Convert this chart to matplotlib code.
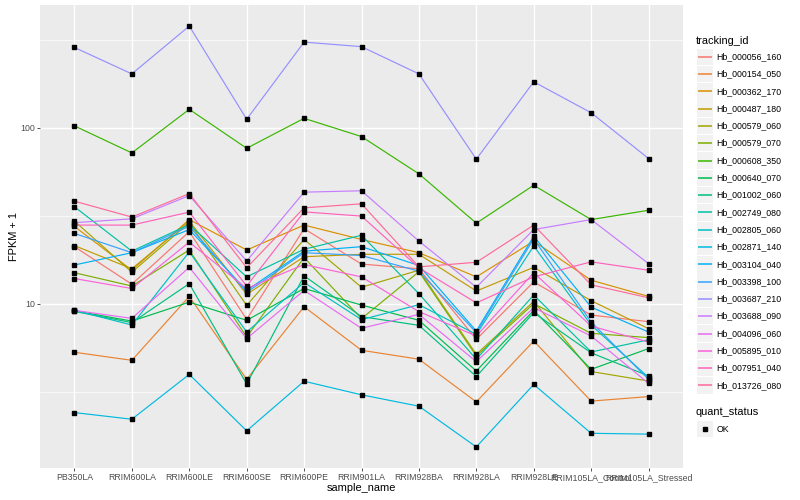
"""
FPKM profiles per gene across rubber tree samples (ggplot-style line plot).
"""

import numpy as np
import matplotlib
matplotlib.use("Agg")
import matplotlib.pyplot as plt
from matplotlib.patches import Rectangle
from matplotlib.ticker import FixedLocator, NullFormatter

plt.rcParams["font.family"] = ["Liberation Sans", "DejaVu Sans"]

# ── Data (FPKM + 1) ──
samples = ["PB350LA", "RRIM600LA", "RRIM600LE", "RRIM600SE", "RRIM600PE",
           "RRIM901LA", "RRIM928BA", "RRIM928LA", "RRIM928LE",
           "RRIM105LA_Control", "RRIM105LA_Stressed"]

tracking_ids = ["Hb_000056_160", "Hb_000154_050", "Hb_000362_170", "Hb_000487_180",
                "Hb_000579_060", "Hb_000579_070", "Hb_000608_350", "Hb_000640_070",
                "Hb_001002_060", "Hb_002749_080", "Hb_002805_060", "Hb_002871_140",
                "Hb_003104_040", "Hb_003398_100", "Hb_003687_210", "Hb_003688_090",
                "Hb_004096_060", "Hb_005895_010", "Hb_007951_040", "Hb_013726_080"]

hb_000056_160 = [21.1, 12.9, 25.7, 8.14, 26.7, 16.8, 15.8, 6.27, 13.3, 8.61, 7.90]
hb_000154_050 = [5.29, 4.76, 11.0, 3.71, 9.61, 5.43, 4.83, 2.76, 6.13, 2.79, 2.96]
hb_000362_170 = [27.5, 15.5, 30.1, 20.2, 28.0, 23.2, 19.5, 14.2, 22.7, 13.6, 11.0]
hb_000487_180 = [21.4, 15.8, 29.5, 11.3, 18.5, 19.1, 19.1, 11.8, 16.1, 10.4, 7.21]
hb_000579_060 = [29.5, 15.1, 28.9, 9.78, 23.2, 12.4, 15.5, 5.15, 10.3, 4.11, 3.63]
hb_000579_070 = [15.0, 12.6, 20.2, 6.46, 18.3, 8.22, 15.2, 5.04, 10.0, 6.78, 6.41]
hb_000608_350 = [102.7, 72.1, 127.6, 76.6, 113.4, 89.3, 54.8, 28.7, 47.2, 30.1, 34.0]
hb_000640_070 = [9.10, 7.96, 10.2, 8.04, 12.2, 9.82, 8.04, 4.14, 9.16, 4.23, 5.55]
hb_001002_060 = [9.04, 7.80, 13.0, 3.49, 14.4, 8.44, 7.53, 3.85, 8.89, 5.25, 3.88]
hb_002749_080 = [35.6, 19.9, 28.2, 14.2, 20.4, 24.5, 11.4, 4.83, 11.2, 5.31, 6.23]
hb_002805_060 = [9.16, 7.56, 19.7, 6.90, 13.2, 8.11, 9.87, 6.69, 21.3, 7.56, 3.80]
hb_002871_140 = [2.40, 2.20, 3.96, 1.89, 3.62, 3.03, 2.61, 1.53, 3.47, 1.83, 1.81]
hb_003104_040 = [16.6, 19.5, 26.4, 11.9, 19.9, 21.1, 16.5, 6.99, 24.2, 9.56, 6.90]
hb_003398_100 = [25.1, 19.5, 27.6, 11.6, 19.5, 18.8, 15.3, 6.84, 23.4, 7.86, 3.71]
hb_003687_210 = [287, 203, 380, 112, 308, 290, 203, 66.4, 183, 122, 67.0]
hb_003688_090 = [28.9, 30.4, 41.2, 17.5, 43.1, 43.9, 22.7, 12.4, 26.4, 30.1, 16.9]
hb_004096_060 = [9.16, 8.25, 16.1, 6.33, 11.9, 7.24, 8.69, 4.68, 9.49, 6.55, 3.52]
hb_005895_010 = [13.9, 12.2, 22.4, 12.2, 16.7, 14.2, 9.01, 6.55, 15.0, 7.46, 6.05]
hb_007951_040 = [28.0, 28.0, 33.2, 12.6, 33.3, 31.5, 16.0, 10.1, 14.2, 17.3, 15.5]
hb_013726_080 = [38.3, 31.1, 42.3, 16.0, 35.1, 37.0, 16.2, 17.2, 28.0, 12.8, 10.8]

series = [hb_000056_160, hb_000154_050, hb_000362_170, hb_000487_180,
          hb_000579_060, hb_000579_070, hb_000608_350, hb_000640_070,
          hb_001002_060, hb_002749_080, hb_002805_060, hb_002871_140,
          hb_003104_040, hb_003398_100, hb_003687_210, hb_003688_090,
          hb_004096_060, hb_005895_010, hb_007951_040, hb_013726_080]


# ── ggplot hue palette (HCL, c=100, l=65) ──
def hue_pal(n, c=100.0, l=65.0):
    hues = np.linspace(15, 375, n + 1)[:-1]
    xn, yn, zn = 0.95047, 1.0, 1.08883
    den = xn + 15 * yn + 3 * zn
    un, vn = 4 * xn / den, 9 * yn / den
    Y = yn * ((l + 16) / 116) ** 3
    out = []
    for h in hues:
        r = np.deg2rad(h)
        u = c * np.cos(r) / (13 * l) + un
        v = c * np.sin(r) / (13 * l) + vn
        X = 9 * Y * u / (4 * v)
        Z = -X / 3 - 5 * Y + 3 * Y / v
        lin = np.array([
            3.240479 * X - 1.537150 * Y - 0.498535 * Z,
            -0.969256 * X + 1.875992 * Y + 0.041556 * Z,
            0.055648 * X - 0.204043 * Y + 1.057311 * Z,
        ])
        rgb = np.where(lin <= 0.0031308, 12.92 * lin,
                       1.055 * np.abs(lin) ** (1 / 2.4) - 0.055)
        out.append(tuple(np.clip(rgb, 0, 1)))
    return out


COLORS = hue_pal(len(tracking_ids))
PANEL_BG = "#EBEBEB"
KEY_BG = "#F2F2F2"
TICK_TXT = "#4D4D4D"
TICK_COL = "#333333"

W, H = 800, 500
fig = plt.figure(figsize=(W / 100, H / 100), dpi=100)
ax = fig.add_axes([40 / W, 1 - 468 / H, 643 / W, 463 / H])
ax.set_facecolor(PANEL_BG)

x = np.arange(len(samples))
for vals, col in zip(series, COLORS):
    ax.plot(x, vals, color=col, linewidth=0.85, zorder=2)
for vals in series:
    ax.plot(x, vals, linestyle="none", marker="s", markersize=2.5,
            color="black", zorder=3)

# Scales: log10 with 5% expansion, discrete x with 0.6 padding
ax.set_yscale("log")
allv = np.log10(np.concatenate([np.asarray(s, float) for s in series]))
lo, hi = allv.min(), allv.max()
pad = (hi - lo) * 0.05
ax.set_ylim(10 ** (lo - pad), 10 ** (hi + pad))
ax.set_xlim(-0.6, len(samples) - 0.4)

ax.yaxis.set_major_locator(FixedLocator([10, 100]))
ax.set_yticklabels(["10", "100"])
ax.yaxis.set_minor_locator(FixedLocator([10 ** 0.5, 10 ** 1.5, 10 ** 2.5]))
ax.yaxis.set_minor_formatter(NullFormatter())
ax.set_xticks(x)
ax.set_xticklabels(samples)

ax.grid(which="major", color="white", linewidth=1.0, zorder=0)
ax.grid(which="minor", axis="y", color="white", linewidth=0.5, zorder=0)
ax.set_axisbelow(True)
ax.tick_params(which="major", labelsize=6.3, labelcolor=TICK_TXT, color=TICK_COL,
               length=2, width=0.6, pad=1.5)
ax.tick_params(which="minor", length=0)
for sp in ax.spines.values():
    sp.set_visible(False)

ax.set_xlabel("sample_name", fontsize=7.9, labelpad=1)
ax.set_ylabel("FPKM + 1", fontsize=7.9, labelpad=1)

# ── Legends (drawn in pixel coordinates) ──
lg = fig.add_axes([0, 0, 1, 1], zorder=5)
lg.set_xlim(0, W)
lg.set_ylim(H, 0)
lg.axis("off")

lg.text(696, 40.7, "tracking_id", fontsize=7.9, va="center", ha="left")
step = 17.3
for i, (name, col) in enumerate(zip(tracking_ids, COLORS)):
    yc = 56.7 + step * i
    lg.add_patch(Rectangle((697, yc - 8.2), 16.4, 16.4, facecolor=KEY_BG,
                           edgecolor="none"))
    lg.plot([698.2, 711.8], [yc, yc], color=col, linewidth=1.1,
            solid_capstyle="butt")
    lg.text(716.5, yc, name, fontsize=6.3, va="center", ha="left")

lg.text(696, 412, "quant_status", fontsize=7.9, va="center", ha="left")
lg.add_patch(Rectangle((697, 429 - 8.2), 16.4, 16.4, facecolor=KEY_BG,
                       edgecolor="none"))
lg.plot([705.2], [429], marker="s", markersize=2.5, color="black")
lg.text(716.5, 429, "OK", fontsize=6.3, va="center", ha="left")

fig.savefig("out.png", dpi=100, facecolor="white")
